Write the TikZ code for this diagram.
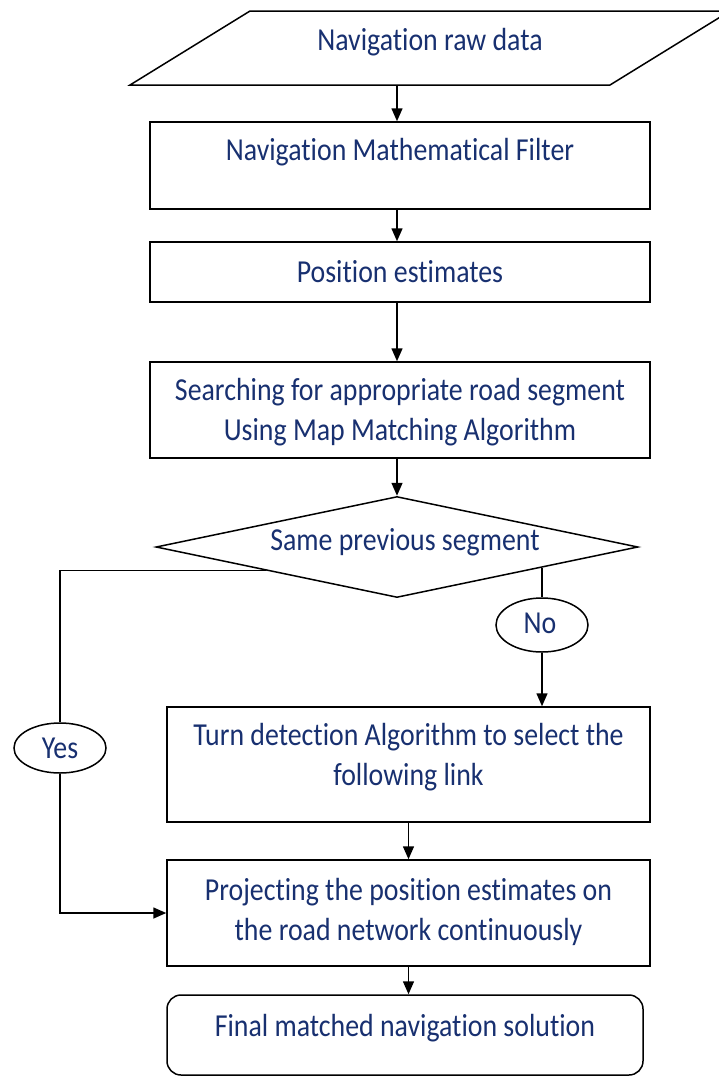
\documentclass[tikz,border=0pt]{standalone}
\usepackage{fontspec}
\setmainfont{Carlito}[Ligatures=NoCommon, FakeStretch=0.87]
\usetikzlibrary{shapes.geometric,arrows.meta,calc}
\definecolor{navy}{RGB}{24,48,112}
\begin{document}
\begin{tikzpicture}[x=1pt,y=-1pt,
  lbl/.style={font=\fontsize{32}{40}\selectfont, text=navy, align=center, inner sep=0pt},
  frame/.style={draw=black, line width=1.5pt, rectangle, inner sep=0pt},
  link/.style={draw=black, line width=1.5pt},
  arr/.style={link, -{Triangle[length=13pt,width=11pt]}},
  tag/.style={draw=black, line width=1.5pt, ellipse, inner sep=0pt}
]
\path[use as bounding box] (0,0) rectangle (719,1080);

% input parallelogram
\begin{scope}
  \clip (0,0) rectangle (719,1080);
  \draw[line width=1.5pt, line join=miter] (130,85) -- (250,11) -- (730,11) -- (610,85) -- cycle;
\end{scope}
\node[lbl] (raw) at (430,42) {Navigation raw data};
\coordinate (rawb) at (397,85);

% process boxes
\node[frame, minimum width=500pt, minimum height=87pt] (f1) at (400,165.5) {};
\node[lbl] (l1) at (400,152) {Navigation Mathematical Filter};

\node[frame, minimum width=500pt, minimum height=60pt] (f2) at (400,272) {};
\node[lbl] (l2) at (400,272) {Position estimates};

\node[frame, minimum width=500pt, minimum height=96pt] (f3) at (400,410) {};
\node[lbl] (l3) at (400,412) {Searching for appropriate road segment\\Using Map Matching Algorithm};

% decision
\node[draw=black, line width=1.5pt, diamond, inner sep=0pt,
      minimum width=482pt, minimum height=101pt] (dia) at (397,547) {};
\node[lbl] (ld) at (405,542) {Same previous segment};

% branch labels
\node[tag, minimum width=92pt, minimum height=50pt] (yes) at (60,748) {};
\node[lbl] (ly) at (60,748) {Yes};
\node[tag, minimum width=92pt, minimum height=54pt] (no) at (542,625) {};
\node[lbl] (ln) at (540,623) {No};

\node[frame, minimum width=483pt, minimum height=115pt] (t4) at (408.5,764.5) {};
\node[lbl] (l4) at (408.5,757) {Turn detection Algorithm to select the\\following link};

\node[frame, minimum width=483pt, minimum height=106pt] (t5) at (408.5,913) {};
\node[lbl] (l5) at (408.5,912) {Projecting the position estimates on\\the road network continuously};

\node[frame, rounded corners=14pt, minimum width=476pt, minimum height=80pt] (t6) at (405,1035) {};
\node[lbl] (l6) at (405,1028) {Final matched navigation solution};

% connectors
\draw[arr] (rawb) -- (rawb |- f1.north);
\draw[arr] (f1.south -| rawb) -- (f2.north -| rawb);
\draw[arr] (f2.south -| rawb) -- (f3.north -| rawb);
\draw[arr] (f3.south -| rawb) -- (dia.north);

\coordinate (ys) at ($(dia.west)!0.46!(dia.south)$);
\draw[link] (ys) -- (ys -| yes.north) -- (yes.north);
\draw[arr] (yes.south) |- (t5.west);

\coordinate (ns) at ($(dia.south)!0.6!(dia.east)$);
\draw[link] (ns) -- (ns |- no.north);
\draw[arr] (no.south) -- (no.south |- t4.north);

\draw[arr] (t4.south) -- (t5.north);
\draw[arr] (t5.south) -- (t5.south |- t6.north);
\end{tikzpicture}
\end{document}
